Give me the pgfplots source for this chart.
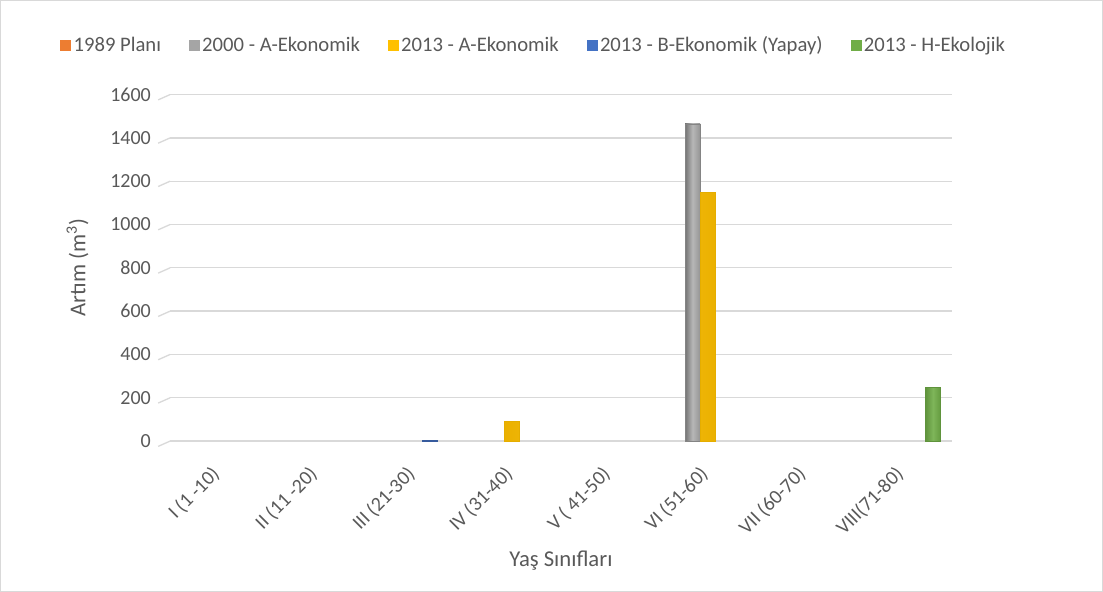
\documentclass[border=0pt]{standalone}
\usepackage{pgfplots}
\pgfplotsset{compat=1.18}
\usepackage{fontspec}
\setmainfont{Carlito}
\definecolor{txt}{HTML}{595959}
\definecolor{grd}{HTML}{D9D9D9}
\definecolor{cOr}{HTML}{ED7D31}
\definecolor{cGr}{HTML}{A5A5A5}
\definecolor{cYe}{HTML}{FFC000}
\definecolor{cBl}{HTML}{4472C4}
\definecolor{cGn}{HTML}{70AD47}
\begin{document}
\begin{tikzpicture}[x=1pt,y=1pt]
% chart frame (image edges)
\draw[grd,use as bounding box] (-127.5,-112.5) rectangle (699.75,330.75);
\begin{axis}[
    at={(0,0)}, anchor=south west,
    scale only axis,
    width=586.5pt, height=260pt,
    xmin=-0.5, xmax=7.5,
    ymin=0, ymax=1600,
    ytick={0,200,...,1600},
    xtick={0,...,7},
    xticklabels={I (1 -10),II (11 -20),III (21-30),IV (31-40),V ( 41-50),VI (51-60),VII (60-70),VIII(71-80)},
    axis line style={draw=none},
    major tick style={draw=none},
    ymajorgrids, grid style={grd, line width=1pt},
    font=\fontsize{15}{18}\selectfont\color{txt},
    yticklabel style={/pgf/number format/assume math mode=true, /pgf/number format/1000 sep={}, xshift=-11pt},
    scaled y ticks=false,
    xticklabel style={xshift=-6.7pt, yshift=-8.8pt, rotate=45, anchor=north east},
    xlabel={Yaş Sınıfları},
    ylabel={Artım (m\textsuperscript{3})},
    label style={font=\fontsize{17}{20}\selectfont\color{txt}},
    xlabel style={yshift=-2pt},
    ylabel style={yshift=9.5pt},
    legend style={at={(0.4655,1.142)}, anchor=center, draw=none, fill=none,
        legend columns=5, font=\fontsize{15.5}{18}\selectfont\color{txt},
        nodes={inner xsep=2pt},
        /tikz/every even column/.append style={column sep=19pt}},
    ybar, bar width=11.25pt,
    clip=false,
]
% slanted left ends of the gridlines
\foreach \v in {0,200,...,1600} {
  \edef\tmp{\noexpand\draw[grd, line width=1pt] (axis cs:-0.5,\v) -- ++(-9pt,-4pt);}
  \tmp
}
\pgfplotsset{legend image code/.code={\fill[#1] (0pt,-4pt) rectangle (7.5pt,3.5pt);}}
\addlegendimage{cOr, fill=cOr}
\addlegendentry{1989 Planı}
\addplot[draw=cGr!80!black, left color=cGr!70!black, right color=cGr!90!black, middle color=cGr!80!white, bar shift=-11.25pt, forget plot]
  coordinates {(5,1465)};
\addlegendimage{cGr, fill=cGr}
\addlegendentry{2000 - A-Ekonomik}
\addplot[draw=cYe!90!black, left color=cYe!92!black, right color=cYe!92!black, middle color=cYe!85!white, bar shift=0pt, forget plot]
  coordinates {(3,92) (5,1150)};
\addlegendimage{cYe, fill=cYe}
\addlegendentry{2013 - A-Ekonomik}
\addplot[draw=cBl!80!black, fill=cBl, bar shift=11.25pt, forget plot]
  coordinates {(2,5)};
\addlegendimage{cBl, fill=cBl}
\addlegendentry{2013 - B-Ekonomik (Yapay)}
\addplot[draw=cGn!85!black, left color=cGn!85!black, right color=cGn!90!black, middle color=cGn!90!white, bar shift=22.5pt, forget plot]
  coordinates {(7,248)};
\addlegendimage{cGn, fill=cGn}
\addlegendentry{2013 - H-Ekolojik}
\end{axis}
\end{tikzpicture}
\end{document}
